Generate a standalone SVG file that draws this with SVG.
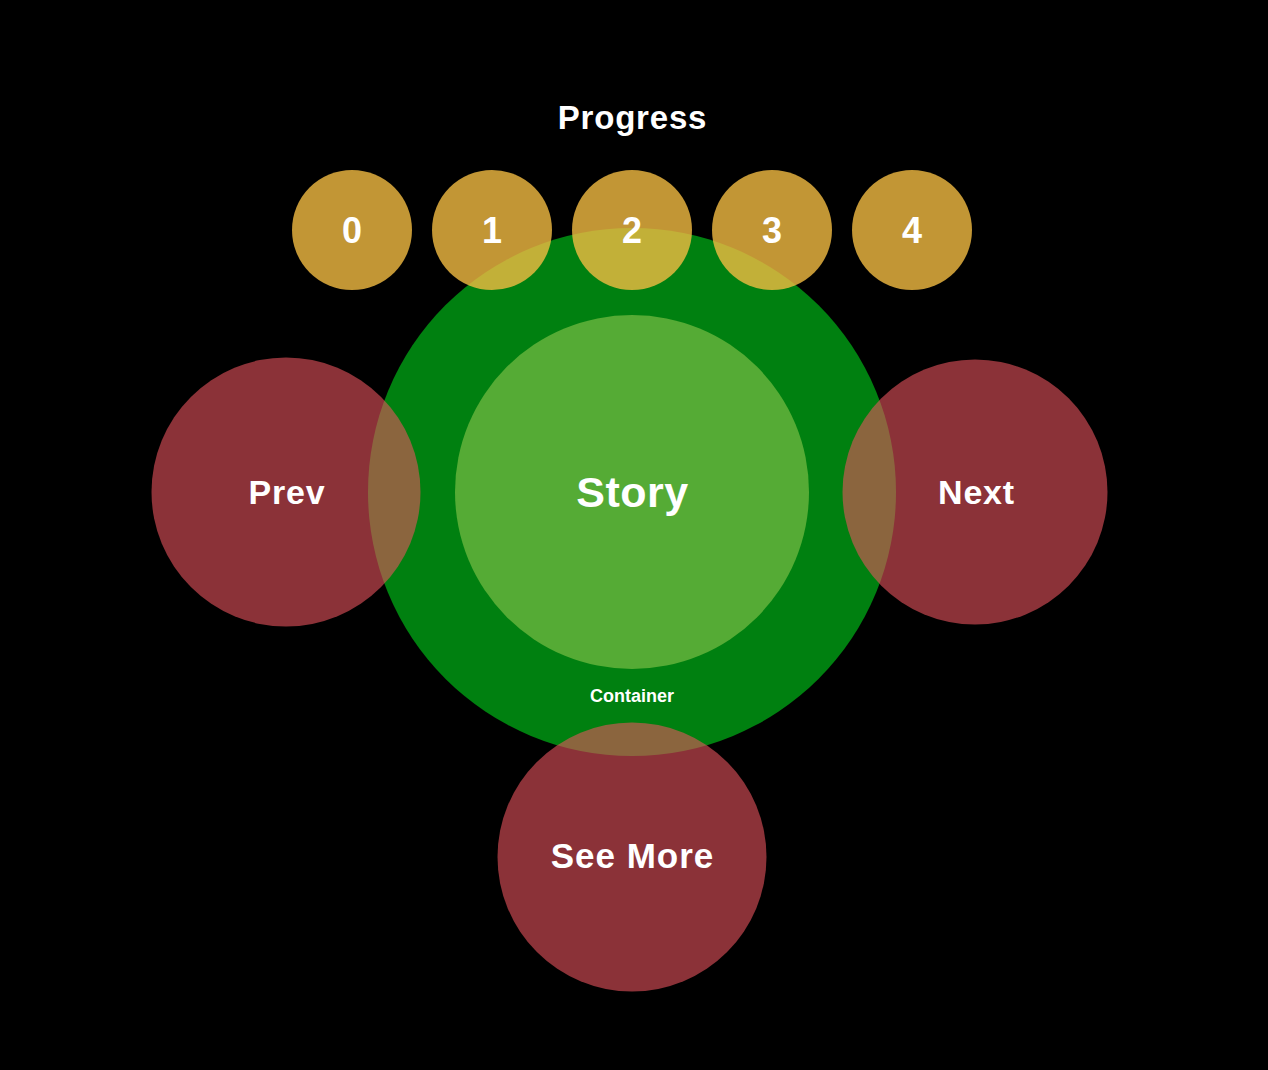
<svg xmlns="http://www.w3.org/2000/svg" width="1268" height="1070" viewBox="0 0 1268 1070">
  <style>
    .t { font-family: "Liberation Sans", Arial, sans-serif; font-weight: bold; fill: #ffffff; text-anchor: middle; }
    .red { fill: #E8545E; fill-opacity: 0.6; }
    .gold { fill: #F3BB42; fill-opacity: 0.8; }
  </style>
  <rect x="0" y="0" width="1268" height="1070" fill="#000000"/>
  <g id="container">
    <circle cx="632" cy="492" r="264" fill="#008010"/>
    <text class="t" x="632" y="702" font-size="18">Container</text>
  </g>
  <g id="story">
    <circle cx="632" cy="492" r="177" fill="#55AB35"/>
    <text class="t" x="632.5" y="507" font-size="43" letter-spacing="0.5">Story</text>
  </g>
  <g id="prev">
    <circle class="red" cx="286" cy="492" r="134.5"/>
    <text class="t" x="287" y="504" font-size="34" letter-spacing="0.8">Prev</text>
  </g>
  <g id="next">
    <circle class="red" cx="975" cy="492" r="132.5"/>
    <text class="t" x="976.5" y="504" font-size="34" letter-spacing="0.8">Next</text>
  </g>
  <g id="seemore">
    <circle class="red" cx="632" cy="857" r="134.5"/>
    <text class="t" x="632.5" y="868" font-size="35" letter-spacing="1">See More</text>
  </g>
  <g id="progress-title">
    <text class="t" x="632.5" y="129" font-size="33" letter-spacing="0.8">Progress</text>
  </g>
  <g id="p0">
    <circle class="gold" cx="352" cy="230" r="60"/>
    <text class="t" x="352" y="243" font-size="36">0</text>
  </g>
  <g id="p1">
    <circle class="gold" cx="492" cy="230" r="60"/>
    <text class="t" x="492" y="243" font-size="36">1</text>
  </g>
  <g id="p2">
    <circle class="gold" cx="632" cy="230" r="60"/>
    <text class="t" x="632" y="243" font-size="36">2</text>
  </g>
  <g id="p3">
    <circle class="gold" cx="772" cy="230" r="60"/>
    <text class="t" x="772" y="243" font-size="36">3</text>
  </g>
  <g id="p4">
    <circle class="gold" cx="912" cy="230" r="60"/>
    <text class="t" x="912" y="243" font-size="36">4</text>
  </g>
  <g id="connectors"></g>
</svg>
